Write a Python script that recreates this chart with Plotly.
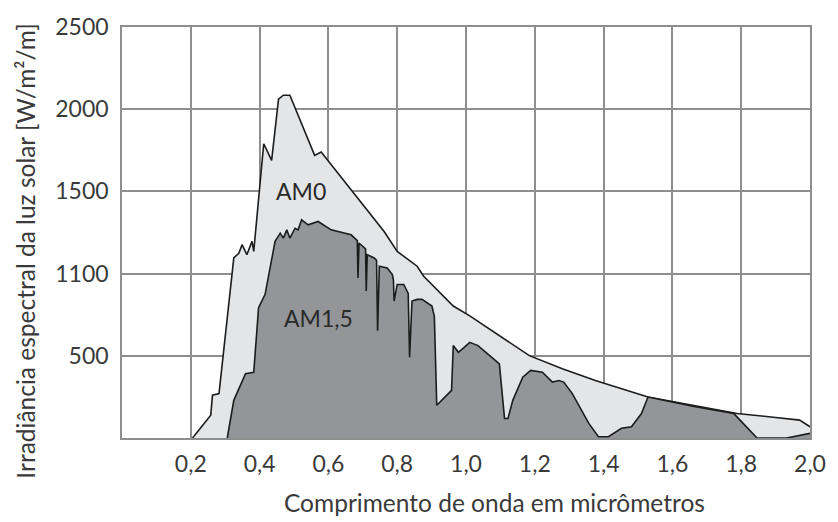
import plotly.graph_objects as go

# AM0 spectrum (wavelength in micrometres, irradiance)
am0_x = [0.205, 0.258, 0.263, 0.282, 0.325, 0.340, 0.349, 0.363, 0.378, 0.383,
         0.412, 0.435, 0.455, 0.469, 0.488, 0.560, 0.579, 0.685, 0.762, 0.800,
         0.858, 0.877, 0.963, 1.011, 1.097, 1.184, 1.280, 1.376, 1.529, 1.663,
         1.788, 1.900, 1.970, 2.000]
am0_y = [0, 139, 260, 270, 1095, 1125, 1176, 1115, 1196, 1135,
         1790, 1689, 2061, 2085, 2085, 1719, 1739, 1457, 1256, 1135,
         1045, 984, 803, 743, 622, 501, 421, 350, 249, 195,
         149, 125, 109, 68]

# AM1,5 spectrum
am15_x = [0.306, 0.325, 0.359, 0.383, 0.397, 0.416, 0.445, 0.460, 0.469, 0.479,
          0.488, 0.503, 0.512, 0.522, 0.541, 0.570, 0.608, 0.666, 0.684, 0.686,
          0.689, 0.704, 0.708, 0.710, 0.713, 0.733, 0.740, 0.743, 0.748, 0.771,
          0.786, 0.789, 0.791, 0.800, 0.819, 0.832, 0.836, 0.843, 0.858, 0.872,
          0.901, 0.908, 0.915, 0.958, 0.963, 0.978, 1.011, 1.035, 1.088, 1.097,
          1.112, 1.122, 1.136, 1.165, 1.188, 1.222, 1.251, 1.270, 1.284, 1.309,
          1.357, 1.385, 1.414, 1.452, 1.481, 1.510, 1.529, 1.663, 1.778, 1.846,
          1.932, 2.000]
am15_y = [0, 229, 391, 400, 793, 874, 1196, 1246, 1216, 1266,
          1216, 1276, 1266, 1327, 1297, 1317, 1266, 1236, 1200, 974,
          1186, 1156, 1150, 894, 1115, 1095, 1080, 652, 1045, 1034,
          994, 960, 833, 934, 934, 880, 491, 833, 843, 843,
          803, 740, 199, 290, 562, 521, 582, 562, 471, 451,
          119, 119, 229, 370, 411, 400, 340, 350, 340, 270,
          89, 8, 8, 59, 68, 149, 249, 192, 150, 0,
          0, 28]

x_ticks = [0.2, 0.4, 0.6, 0.8, 1.0, 1.2, 1.4, 1.6, 1.8, 2.0]
x_tick_text = ["0,2", "0,4", "0,6", "0,8", "1,0", "1,2", "1,4", "1,6", "1,8", "2,0"]
y_ticks = [500, 1000, 1500, 2000, 2500]
y_tick_text = ["500", "1100", "1500", "2000", "2500"]

series_labels = ["AM0", "AM1,5"]
label_pos = [(0.521, 1504), (0.570, 728)]

FONT = "Lato"
TXT = "#3a3a3a"
GRID = "#8e8e8e"

fig = go.Figure()
fig.add_trace(go.Scatter(x=am0_x, y=am0_y, mode="lines", fill="tozeroy",
                         fillcolor="#e4e5e7", line=dict(color="#1c1c1c", width=1.6),
                         hoverinfo="skip", showlegend=False))
fig.add_trace(go.Scatter(x=am15_x, y=am15_y, mode="lines", fill="tozeroy",
                         fillcolor="#939598", line=dict(color="#1c1c1c", width=1.6),
                         hoverinfo="skip", showlegend=False))

for lab, (lx, ly) in zip(series_labels, label_pos):
    fig.add_annotation(x=lx, y=ly, text=lab, showarrow=False,
                       font=dict(family=FONT, size=23, color="#2a2a2a"))

fig.add_annotation(xref="paper", yref="paper", x=0.542, y=-0.158, text="Comprimento de onda em micrômetros",
                   showarrow=False, xanchor="center", yanchor="middle",
                   font=dict(family=FONT, size=24.5, color=TXT))
fig.add_annotation(xref="paper", yref="paper", x=-0.14, y=0.455,
                   text="Irradiância espectral da luz solar [W/m²/m]", textangle=-90,
                   showarrow=False, xanchor="center", yanchor="middle",
                   font=dict(family=FONT, size=24.5, color=TXT))

fig.update_layout(
    width=838, height=522,
    margin=dict(l=122, r=19, t=24, b=84),
    paper_bgcolor="white", plot_bgcolor="white",
    font=dict(family=FONT, size=23, color=TXT),
)
fig.update_xaxes(range=[0, 2.0], tickvals=x_ticks, ticktext=x_tick_text,
                 showgrid=True, gridcolor=GRID, gridwidth=1.5,
                 showline=True, linecolor=GRID, linewidth=1.5, mirror=True,
                 ticks="", ticklabelstandoff=5, zeroline=False,
                 tickfont=dict(family=FONT, size=23, color=TXT))
fig.update_yaxes(range=[0, 2500], tickvals=y_ticks, ticktext=y_tick_text,
                 showgrid=True, gridcolor=GRID, gridwidth=1.5,
                 showline=True, linecolor=GRID, linewidth=1.5, mirror=True,
                 ticks="", ticklabelstandoff=7, zeroline=False,
                 tickfont=dict(family=FONT, size=23, color=TXT))

fig.write_html("out.html")
